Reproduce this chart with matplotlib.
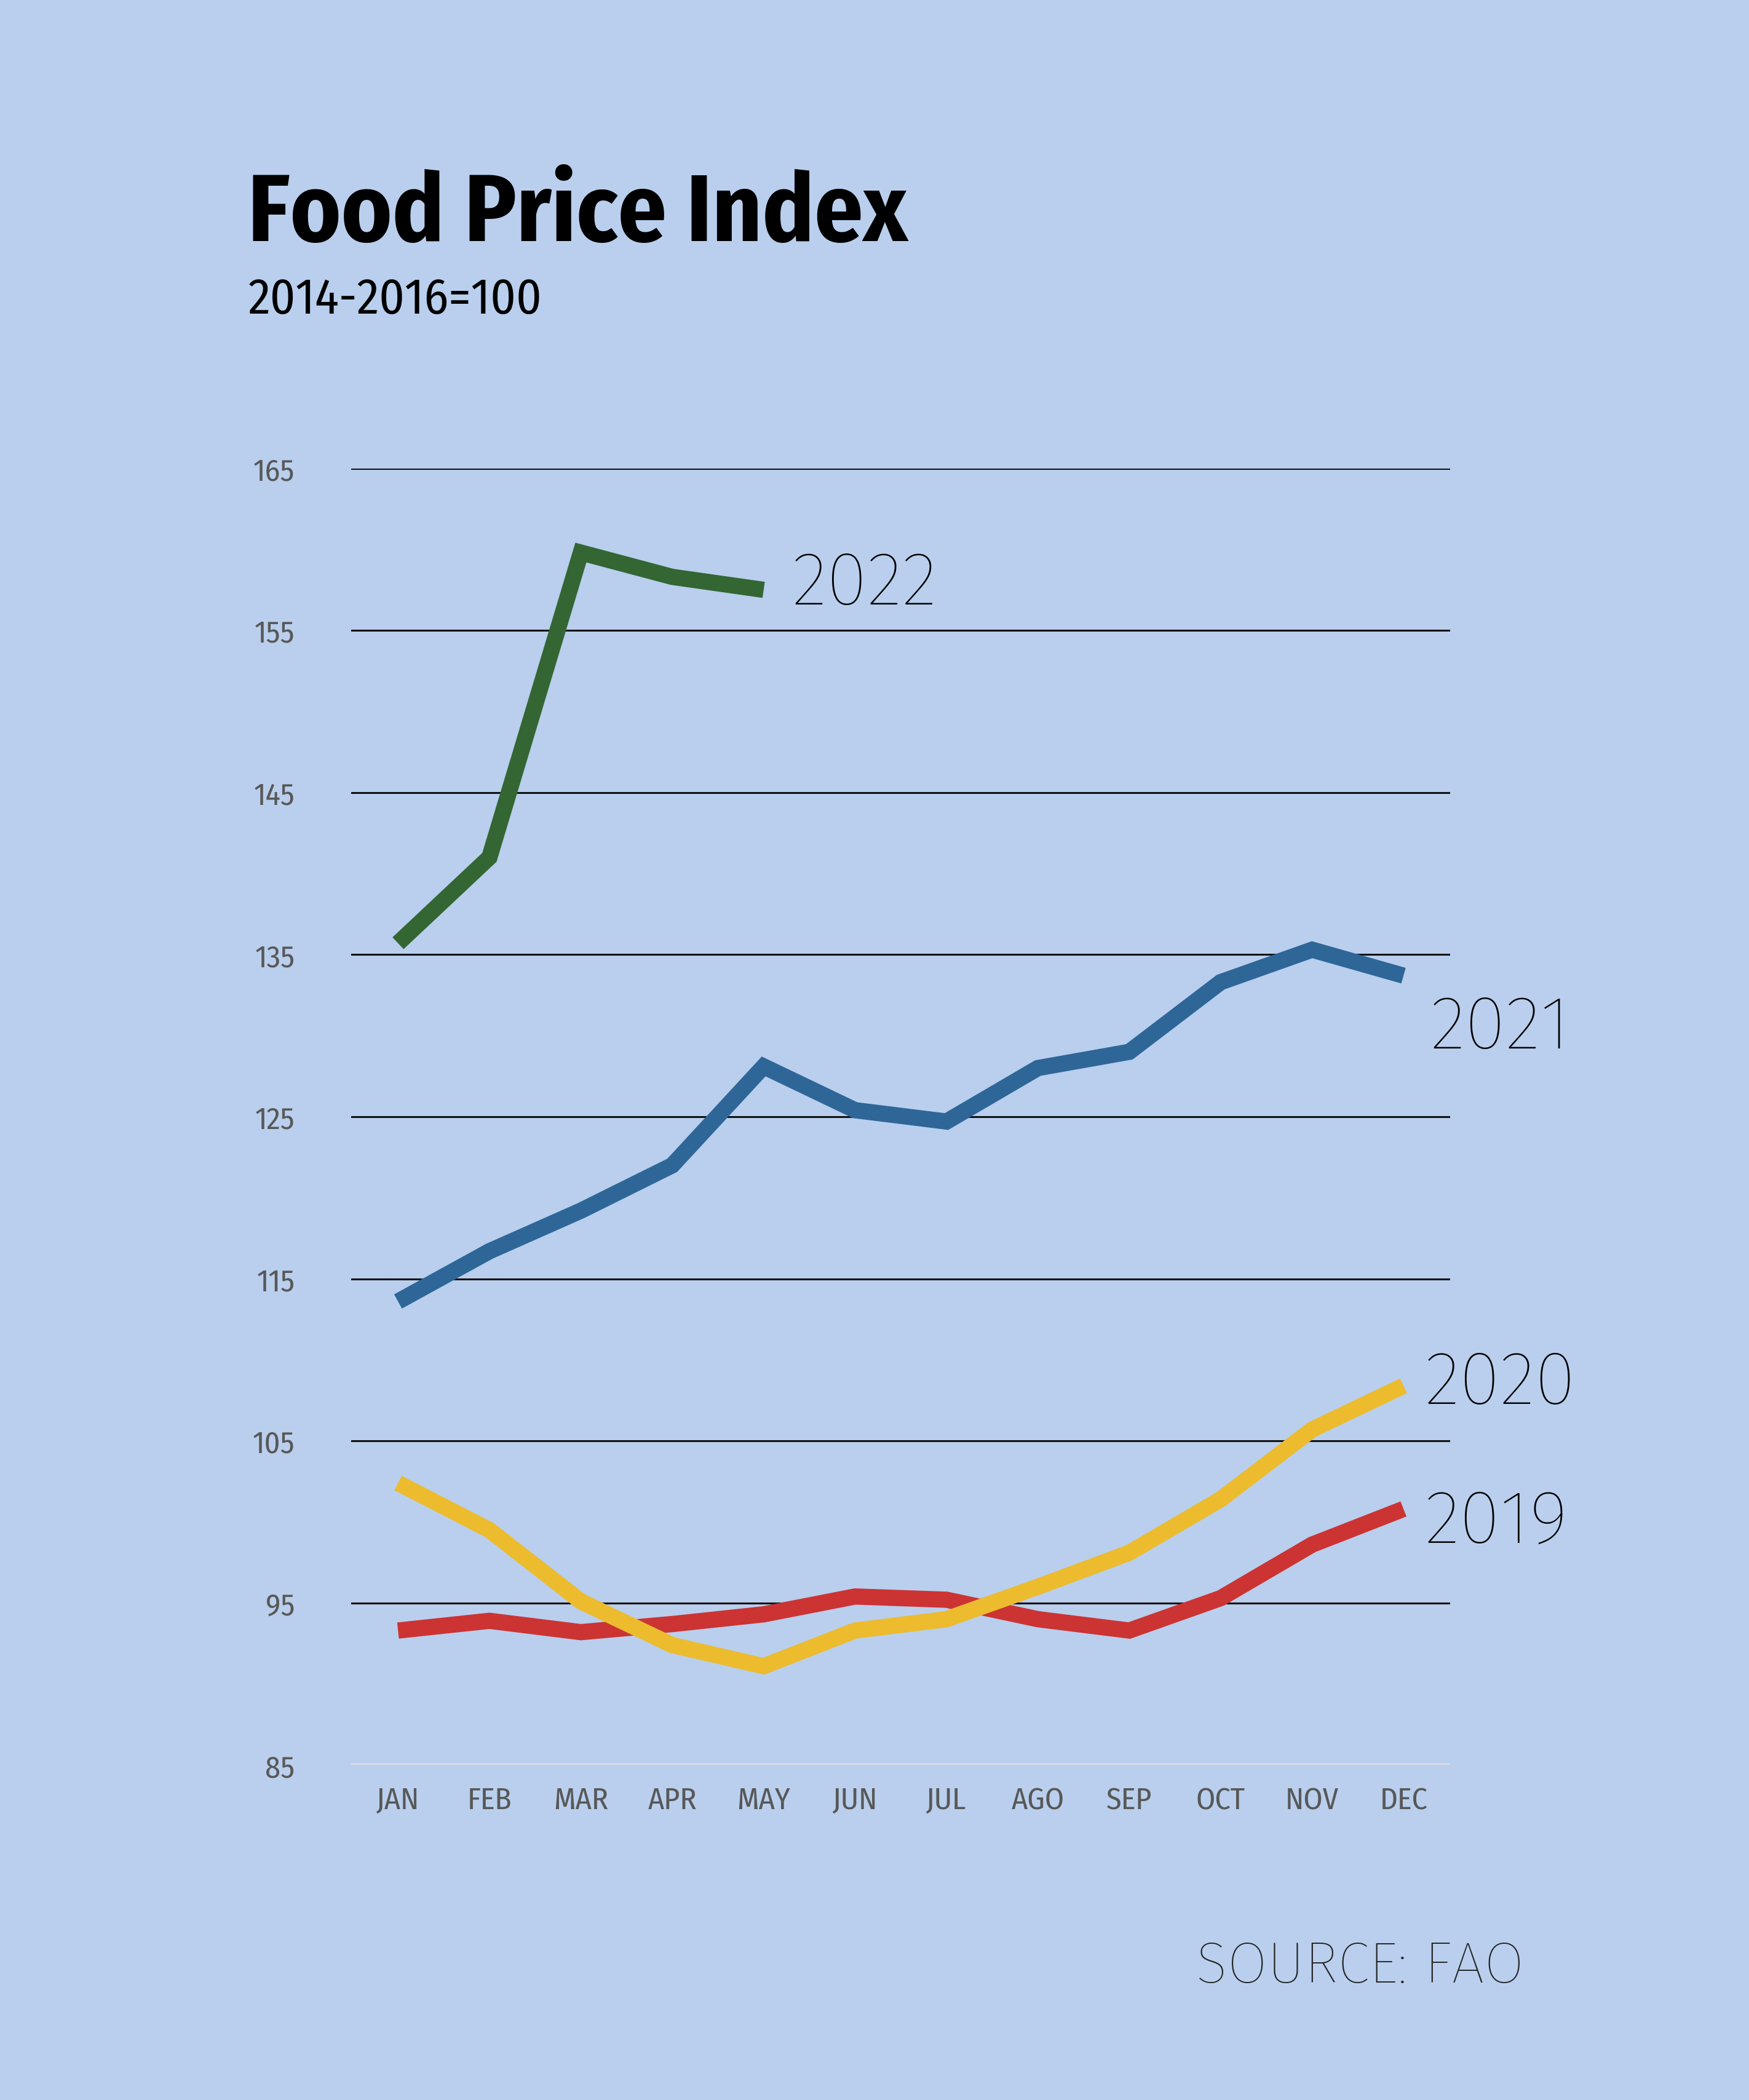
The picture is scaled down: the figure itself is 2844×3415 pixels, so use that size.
import matplotlib
matplotlib.use("Agg")
import matplotlib.pyplot as plt

months = ["JAN", "FEB", "MAR", "APR", "MAY", "JUN", "JUL", "AGO", "SEP", "OCT", "NOV", "DEC"]
y2019 = [93.3, 93.9, 93.2, 93.7, 94.3, 95.4, 95.2, 94.0, 93.3, 95.3, 98.6, 100.8]
y2020 = [102.4, 99.5, 95.1, 92.4, 91.1, 93.3, 94.0, 96.0, 98.1, 101.4, 105.7, 108.4]
y2021 = [113.6, 116.7, 119.2, 122.0, 128.1, 125.4, 124.7, 128.0, 129.0, 133.3, 135.3, 133.7]
y2022 = [135.7, 141.0, 159.8, 158.3, 157.5]
yticks = [85, 95, 105, 115, 125, 135, 145, 155, 165]

COND = ["Fira Sans Condensed", "DejaVu Sans"]
LIGHT = ["Fira Sans", "DejaVu Sans"]

BG = "#b9cfed"
W, H = 2844, 3416
fig = plt.figure(figsize=(W / 200, H / 200), dpi=200, facecolor=BG)

ax = fig.add_axes([262 / 1305, 1 - 1318 / 1568, (1082 - 262) / 1305, (1318 - 350) / 1568])
ax.set_facecolor(BG)
ax.set_xlim(-0.513, 11.51)
ax.set_ylim(85, 165)
for s in ax.spines.values():
    s.set_visible(False)

for t in yticks:
    ax.axhline(t, color="#111111" if t != 85 else "#dadbe0", lw=1.1 if t != 85 else 2.0, zorder=1)

x = list(range(len(months)))
lw = 9.5
series = [(y2019, "#cc3333"), (y2020, "#ecbc2e"), (y2021, "#2e6698"), (y2022, "#336633")]
for ys, c in series:
    ax.plot(x[:len(ys)], ys, color=c, lw=lw, solid_capstyle="butt",
            solid_joinstyle="miter", zorder=3, clip_on=False)

ax.set_yticks(yticks)
ax.set_yticklabels([str(t) for t in yticks], fontsize=18, color="#585858", family=COND)
ax.set_xticks(x)
ax.set_xticklabels(months, fontsize=18, color="#585858", family=COND)
ax.tick_params(axis="y", length=0, pad=33)
ax.tick_params(axis="x", length=0, pad=12)

lab_kw = dict(fontsize=44, color="black", family=LIGHT, fontweight="light",
              va="center", ha="left", clip_on=False)
ax.text(4.31, 157.9, "2022", **lab_kw)
ax.text(11.29, 130.5, "2021", **lab_kw)
ax.text(11.23, 108.6, "2020", **lab_kw)
ax.text(11.23, 100.0, "2019", **lab_kw)

fig.text(185 / 1305, 1 - 180 / 1568, "Food Price Index", fontsize=56, fontweight="bold",
         family=COND, color="black", va="baseline", ha="left")
fig.text(185 / 1305, 1 - 234 / 1568, "2014-2016=100", fontsize=29, family=COND,
         color="black", va="baseline", ha="left")
fig.text(0.8713, 0.0562, "SOURCE: FAO", fontsize=34, family=LIGHT, fontweight="light",
         color="#222222", va="baseline", ha="right")

fig.savefig("out.png", dpi=200, facecolor=BG)
